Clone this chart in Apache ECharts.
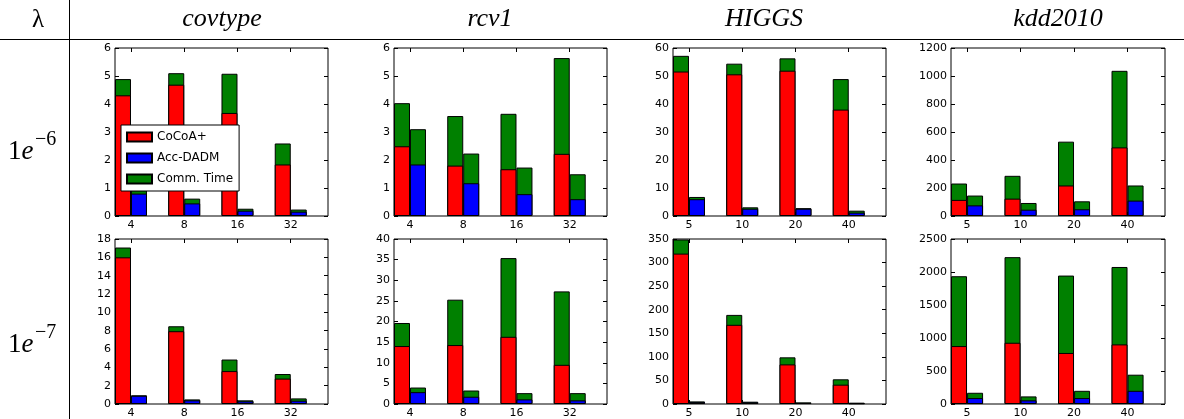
<!DOCTYPE html>
<html><head><meta charset="utf-8">
<script src="https://cdn.jsdelivr.net/npm/echarts@6/dist/echarts.min.js"></script>
<style>html,body{margin:0;padding:0;background:#fff}#c{width:1184px;height:419px}</style>
</head><body><div id="c"></div>
<script>
// ---- data ----
const datasets = ['covtype', 'rcv1', 'HIGGS', 'kdd2010'];
const lambdaExp = ['\u22126', '\u22127'];
const xLabels = [['4','8','16','32'], ['4','8','16','32'], ['5','10','20','40'], ['5','10','20','40']];
const yMax  = [[6, 6, 60, 1200], [18, 40, 350, 2500]];
const yStep = [[1, 1, 10, 200], [2, 5, 50, 500]];

// lambda = 1e-6 (one inner array per dataset): compute time and communication time
const cocoa_1e6     = [[4.31,4.69,3.68,1.84],[2.49,1.80,1.67,2.22],[51.6,50.6,51.9,38.0],[115,124,218,490]];
const cocoaComm_1e6 = [[0.58,0.41,1.40,0.75],[1.54,1.77,1.98,3.42],[5.6,3.8,4.4,10.9],[117,163,313,547]];
const acc_1e6       = [[0.80,0.45,0.19,0.155],[1.84,1.17,0.78,0.60],[6.0,2.6,2.6,1.2],[76,45,48,110]];
const accComm_1e6   = [[0.12,0.17,0.07,0.075],[1.26,1.06,0.95,0.89],[0.8,0.5,0.2,0.7],[70,48,57,108]];
// lambda = 1e-7
const cocoa_1e7     = [[16.0,7.94,3.59,2.77],[14.05,14.29,16.29,9.5],[319,168,84,41],[878,928,773,903]];
const cocoaComm_1e7 = [[1.07,0.54,1.26,0.50],[5.59,11.0,19.08,17.8],[30,21,15,11.4],[1058,1297,1173,1173]];
const acc_1e7       = [[0.90,0.40,0.29,0.36],[2.87,1.76,1.12,0.88],[4,3.5,2,1.4],[90,55,90,200]];
const accComm_1e7   = [[0.05,0.10,0.11,0.25],[1.12,1.51,1.51,1.75],[1.5,1.4,1.5,1.4],[80,60,110,244]];

const rows = [
  {cocoa: cocoa_1e6, cocoaComm: cocoaComm_1e6, acc: acc_1e6, accComm: accComm_1e6},
  {cocoa: cocoa_1e7, cocoaComm: cocoaComm_1e7, acc: acc_1e7, accComm: accComm_1e7}
];

// ---- layout ----
const gridLeft = [115, 394, 673, 951];
const gridWidth = [213, 213, 213, 214];
const gridTop = [48, 239];
const gridHeight = [168, 167];
const titleX = [222, 490, 764, 1058];

const RED = '#ff0000', BLUE = '#0000ff', GREEN = '#008000';
const FONT = 'DejaVu Sans';
const tickPos = [0, 1, 2, 3];
const HALF = 0.15; // half of a bar, in category units

const grids = [], xAxes = [], yAxes = [], series = [];
let p = 0;
for (let r = 0; r < 2; r++) {
  for (let c = 0; c < 4; c++) {
    grids.push({left: gridLeft[c], top: gridTop[r], width: gridWidth[c], height: gridHeight[r],
      show: true, borderColor: '#000', borderWidth: 1, backgroundColor: 'transparent', containLabel: false});
    const labs = xLabels[c];
    const xBase = {type: 'value', gridIndex: p, min: -0.3, max: 3.7,
      axisLine: {show: false, onZero: false}, splitLine: {show: false}};
    xAxes.push(Object.assign({}, xBase, {position: 'bottom',
      axisTick: {show: true, inside: true, length: 4, customValues: tickPos, lineStyle: {color: '#000'}},
      axisLabel: {show: true, customValues: tickPos, formatter: v => labs[Math.round(v)],
        color: '#000', fontSize: 11, fontFamily: FONT, margin: 4}}));
    xAxes.push(Object.assign({}, xBase, {position: 'top',
      axisTick: {show: true, inside: true, length: 4, customValues: tickPos, lineStyle: {color: '#000'}},
      axisLabel: {show: false}}));
    const yBase = {type: 'value', gridIndex: p, min: 0, max: yMax[r][c], interval: yStep[r][c],
      axisLine: {show: false, onZero: false}, splitLine: {show: false}};
    yAxes.push(Object.assign({}, yBase, {position: 'left',
      axisTick: {show: true, inside: true, length: 4, lineStyle: {color: '#000'}},
      axisLabel: {show: true, color: '#000', fontSize: 11, fontFamily: FONT, margin: 4,
        formatter: v => String(v)}}));
    yAxes.push(Object.assign({}, yBase, {position: 'right',
      axisTick: {show: true, inside: true, length: 4, lineStyle: {color: '#000'}},
      axisLabel: {show: false}}));

    const d = rows[r];
    // comm-time segment sits on top of compute: drawn as full-height green bar behind the compute bar
    const mk = (name, vals, color, dx) => ({
      name, type: 'bar', xAxisIndex: 2 * p, yAxisIndex: 2 * p,
      barWidth: 16, barGap: '-100%',
      data: vals.map((v, k) => [k + dx, v]),
      itemStyle: {color, borderColor: '#000', borderWidth: 1},
      emphasis: {disabled: true}, animation: false
    });
    const cocoaTot = d.cocoa[c].map((v, k) => v + d.cocoaComm[c][k]);
    const accTot = d.acc[c].map((v, k) => v + d.accComm[c][k]);
    series.push(mk('Comm. Time', cocoaTot, GREEN, -HALF));
    series.push(mk('CoCoA+', d.cocoa[c], RED, -HALF));
    series.push(mk('Comm. Time', accTot, GREEN, HALF));
    series.push(mk('Acc-DADM', d.acc[c], BLUE, HALF));
    p++;
  }
}

const graphics = [
  {type: 'line', shape: {x1: 0, y1: 39.5, x2: 1184, y2: 39.5}, style: {stroke: '#000', lineWidth: 1}},
  {type: 'line', shape: {x1: 69.5, y1: 0, x2: 69.5, y2: 419}, style: {stroke: '#000', lineWidth: 1}},
  {type: 'text', x: 38, y: 20, style: {text: '\u03bb', fontSize: 25, fontFamily: 'Liberation Serif',
    fill: '#000', align: 'center', verticalAlign: 'middle'}}
];
datasets.forEach((name, c) => {
  graphics.push({type: 'text', x: titleX[c], y: 19, style: {text: name, fontSize: 26,
    fontFamily: 'Liberation Serif', fontStyle: 'italic', fill: '#000', align: 'center', verticalAlign: 'middle'}});
});
const rowY = [152, 345];
lambdaExp.forEach((e, r) => {
  graphics.push({type: 'text', x: 8, y: rowY[r], style: {text: '{u|1}{i|e}',
    rich: {u: {fontSize: 27, fontFamily: 'Liberation Serif', fill: '#000'},
           i: {fontSize: 27, fontFamily: 'Liberation Serif', fontStyle: 'italic', fill: '#000'}},
    align: 'left', verticalAlign: 'middle'}});
  graphics.push({type: 'text', x: 35, y: rowY[r] - 12, style: {text: e, fontSize: 20,
    fontFamily: 'Liberation Serif', fill: '#000', align: 'left', verticalAlign: 'middle'}});
});

const chart = echarts.init(document.getElementById('c'), null, {renderer: 'canvas'});
chart.setOption({
  animation: false,
  backgroundColor: '#fff',
  grid: grids, xAxis: xAxes, yAxis: yAxes, series,
  legend: {left: 121, top: 125, orient: 'vertical', backgroundColor: '#fff', borderColor: '#000',
    borderWidth: 1, borderRadius: 0, padding: [6, 6, 6, 5], itemWidth: 25, itemHeight: 9, itemGap: 9,
    icon: 'rect', selectedMode: false, z: 10,
    textStyle: {fontSize: 12, fontFamily: FONT, color: '#000'},
    data: ['CoCoA+', 'Acc-DADM', 'Comm. Time']},
  graphic: graphics
});
</script></body></html>
